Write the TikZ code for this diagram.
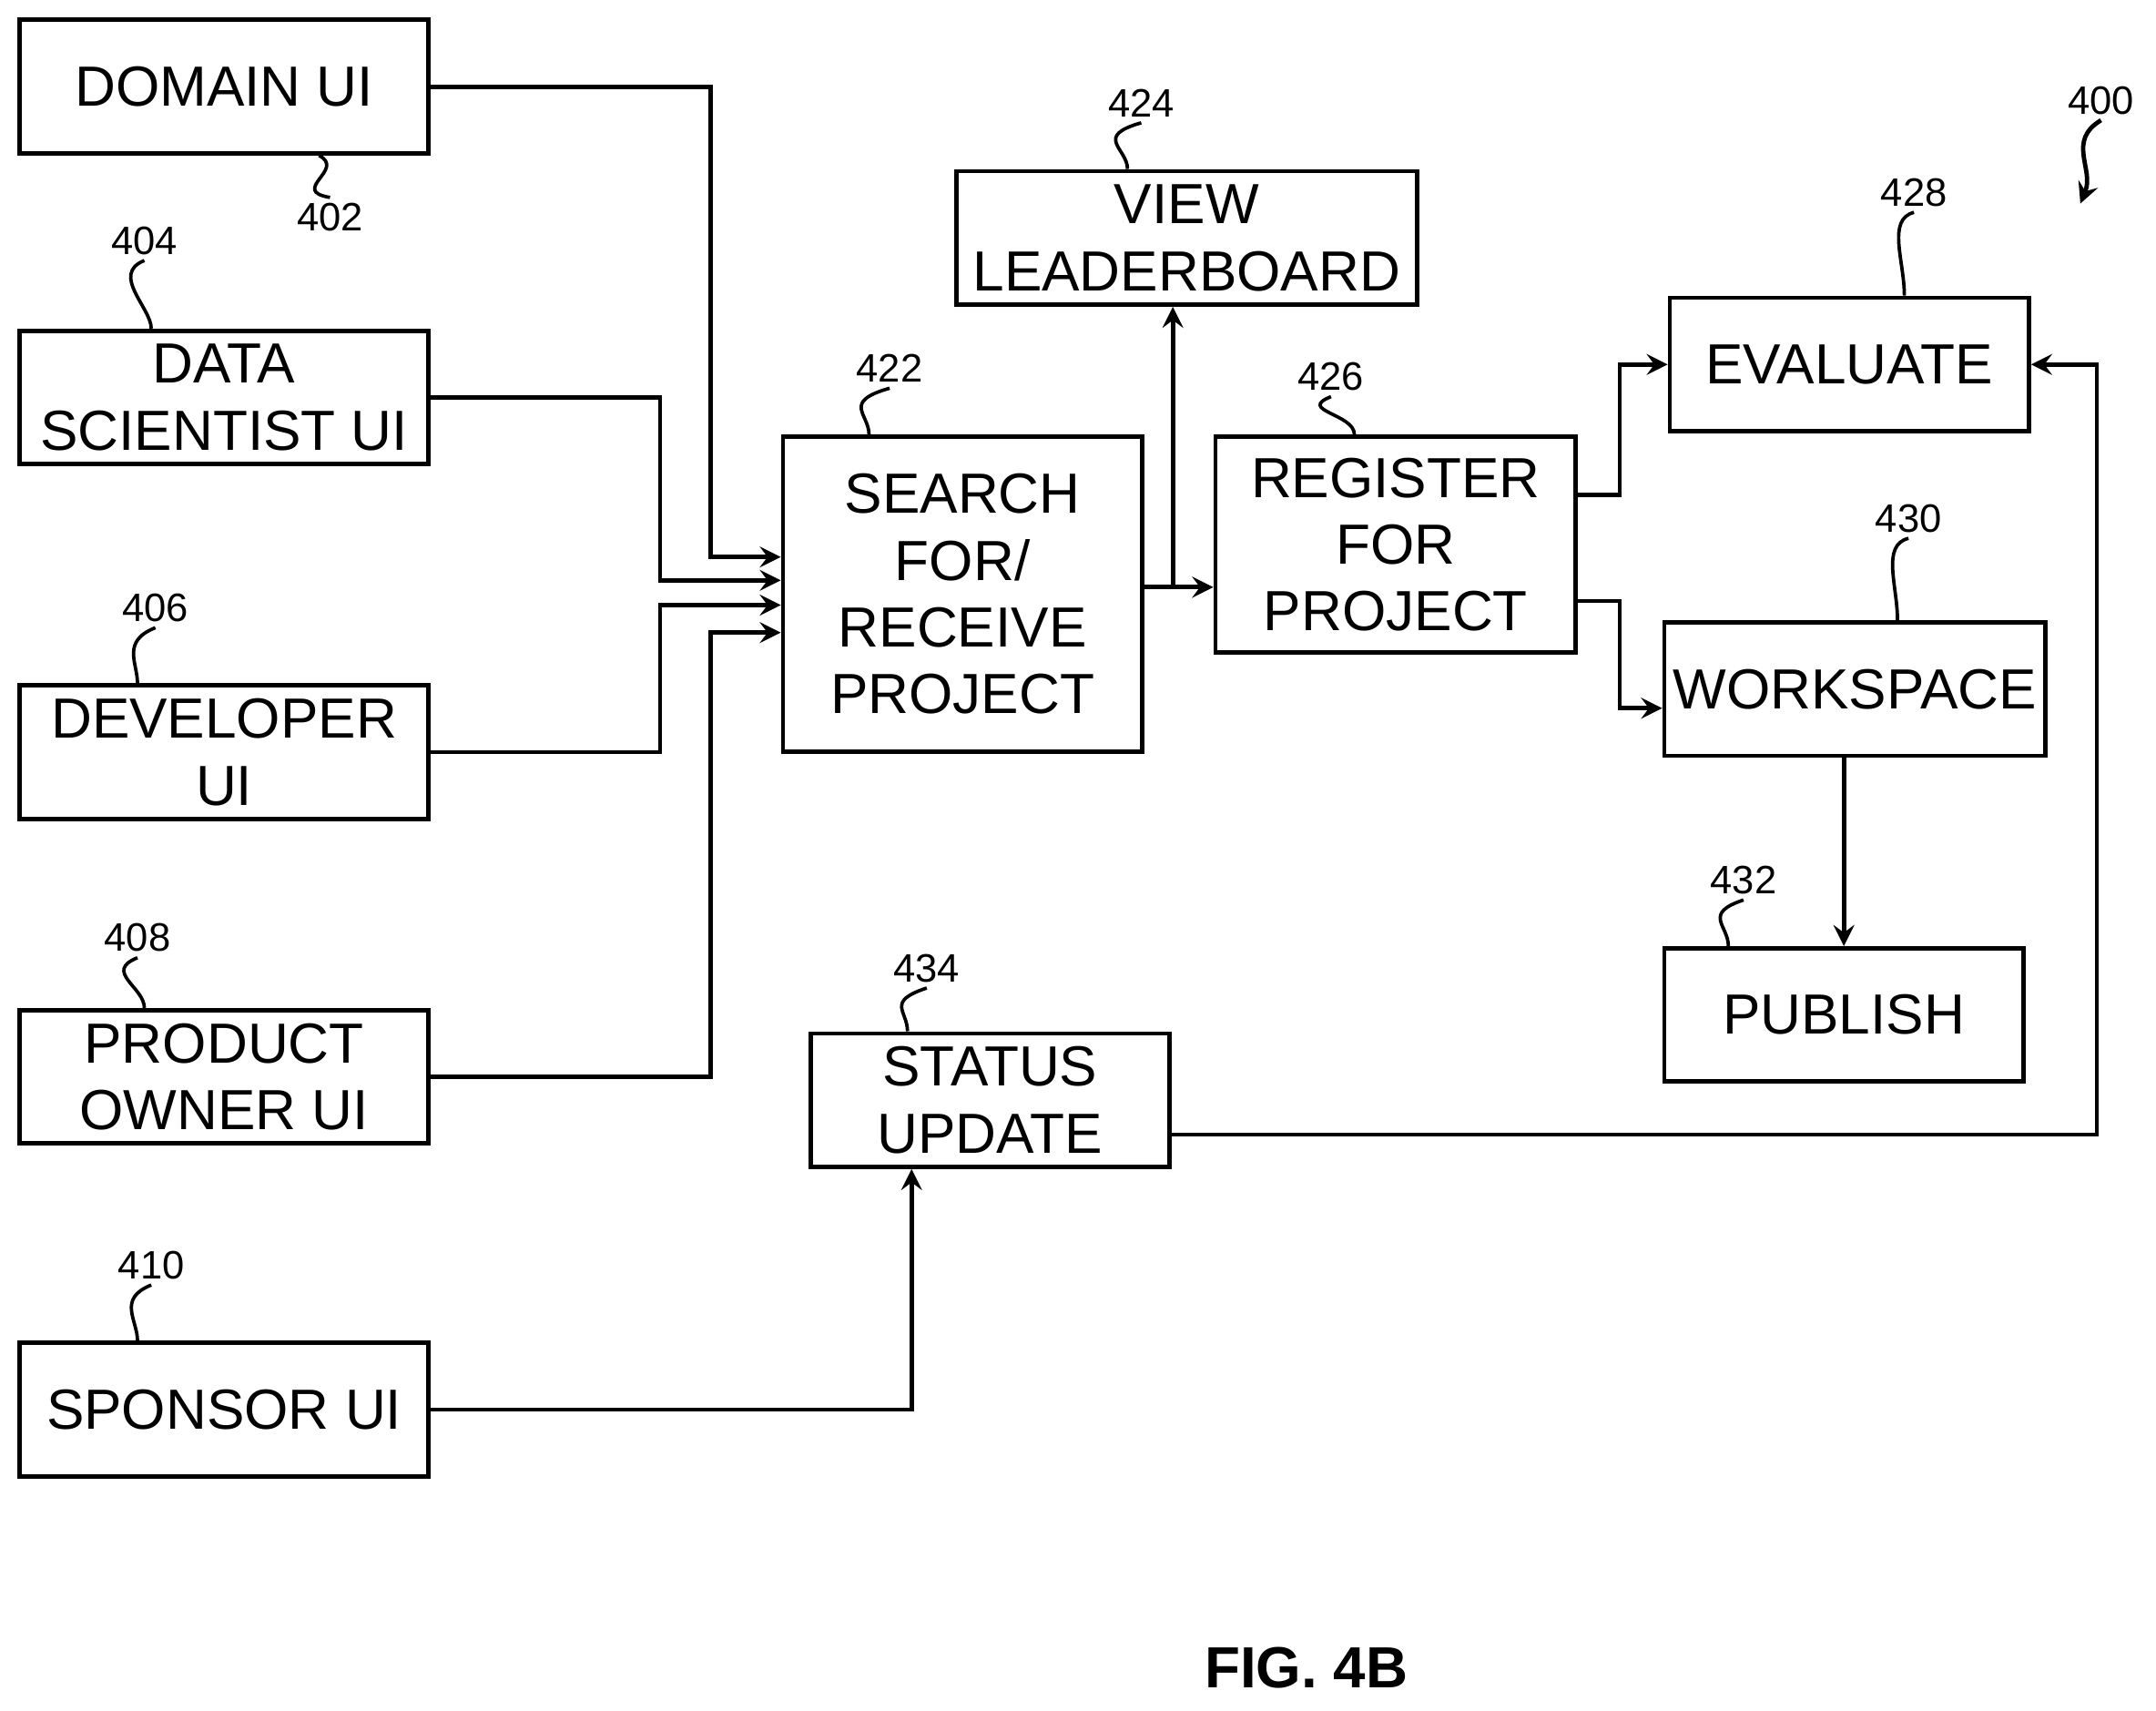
\documentclass[tikz,border=0pt]{standalone}
\usepackage{fontspec}
\setmainfont{Liberation Sans}
\usetikzlibrary{arrows, positioning, calc}

\begin{document}
\begin{tikzpicture}[
    x=0.01cm, y=-0.01cm,
    box/.style={rectangle, draw, line width=0.9pt, minimum width=2.97cm, minimum height=0.97cm, align=center, font=\fontsize{11.7}{13.8}\selectfont, inner sep=0pt},
    num/.style={font=\fontsize{8.2}{9}\selectfont, inner sep=1pt},
    arrow/.style={->, >=stealth, line width=0.9pt},
    squig/.style={line width=0.7pt}
]
\useasboundingbox (0,0) rectangle (1568,1244);

% user interfaces
\node[box] (domain) at (163,63) {DOMAIN UI};
\node[box] (datasci) at (163,289) {DATA\\SCIENTIST UI};
\node[box] (developer) at (163,547) {DEVELOPER\\UI};
\node[box] (owner) at (163,783) {PRODUCT\\OWNER UI};
\node[box] (sponsor) at (163,1025) {SPONSOR UI};

% project flow
\node[box, minimum width=2.61cm, minimum height=2.29cm] (search) at (700,432) {SEARCH\\FOR/\\RECEIVE\\PROJECT};
\node[box, minimum width=3.35cm] (leader) at (863,173) {VIEW\\LEADERBOARD};
\node[box, minimum width=2.62cm, minimum height=1.57cm] (register) at (1015,396) {REGISTER\\FOR\\PROJECT};
\node[box, minimum width=2.61cm] (evaluate) at (1345,265) {EVALUATE};
\node[box, minimum width=2.77cm] (workspace) at (1349,501) {WORKSPACE};
\node[box, minimum width=2.61cm] (publish) at (1341,738) {PUBLISH};
\node[box, minimum width=2.61cm] (status) at (720,800) {STATUS\\UPDATE};

\node[font=\bfseries\fontsize{12}{14}\selectfont] (fig) at (950,1213) {FIG. 4B};

% reference numerals
\node[num] (n402) at (240,158) {402};
\node[num] (n404) at (105,175) {404};
\node[num] (n406) at (113,442) {406};
\node[num] (n408) at (100,682) {408};
\node[num] (n410) at (110,920) {410};
\node[num] (n422) at (647,268) {422};
\node[num] (n424) at (830,75) {424};
\node[num] (n426) at (968,274) {426};
\node[num] (n428) at (1392,140) {428};
\node[num] (n430) at (1388,377) {430};
\node[num] (n432) at (1268,640) {432};
\node[num] (n434) at (674,704) {434};
\node[num] (n400) at (1528,73) {400};

\draw[squig] (n402.north) .. controls +(-30,-5) and +(20,10) .. (domain.south -| 232,0);
\draw[squig] (n404.south) .. controls +(-25,10) and +(0,-15) .. (datasci.north -| 110,0);
\draw[squig] (n406.south) .. controls +(-25,10) and +(0,-15) .. (developer.north -| 100,0);
\draw[squig] (n408.south) .. controls +(-25,10) and +(0,-15) .. (owner.north -| 105,0);
\draw[squig] (n410.south) .. controls +(-25,10) and +(0,-15) .. (sponsor.north -| 100,0);
\draw[squig] (n422.south) .. controls +(-35,10) and +(0,-15) .. (search.north -| 632,0);
\draw[squig] (n424.south) .. controls +(-35,10) and +(0,-15) .. (leader.north -| 820,0);
\draw[squig] (n426.south) .. controls +(-25,10) and +(0,-15) .. (register.north -| 985,0);
\draw[squig] (n428.south) .. controls +(-20,5) and +(0,-25) .. (evaluate.north -| 1385,0);
\draw[squig] (n430.south) .. controls +(-20,5) and +(0,-25) .. (workspace.north -| 1380,0);
\draw[squig] (n432.south) .. controls +(-30,10) and +(0,-15) .. (publish.north -| 1257,0);
\draw[squig] (n434.south) .. controls +(-30,10) and +(0,-15) .. (status.north -| 660,0);
\draw[arrow] (n400.south) .. controls +(-25,15) and +(10,-25) .. (1513,148);

% connectors
\draw[arrow] (domain.east) -| (517,405) -- (search.west |- 0,405);
\draw[arrow] (datasci.east) -| (480,422) -- (search.west |- 0,422);
\draw[arrow] (developer.east) -| (480,440) -- (search.west |- 0,440);
\draw[arrow] (owner.east) -| (517,460) -- (search.west |- 0,460);
\draw[arrow] (search.east |- 0,427) -- (register.west |- 0,427);
\draw[arrow] (853,427) -- (leader.south -| 853,0);
\draw[arrow] (register.east |- 0,360) -| (1178,265) -- (evaluate.west);
\draw[arrow] (register.east |- 0,437) -| (1178,515) -- (workspace.west |- 0,515);
\draw[arrow] (workspace.south -| publish.north) -- (publish.north);
\draw[arrow] (status.east |- 0,825) -| (1525,265) -- (evaluate.east);
\draw[arrow] (sponsor.east) -| (status.south -| 663,0);

\end{tikzpicture}
\end{document}
